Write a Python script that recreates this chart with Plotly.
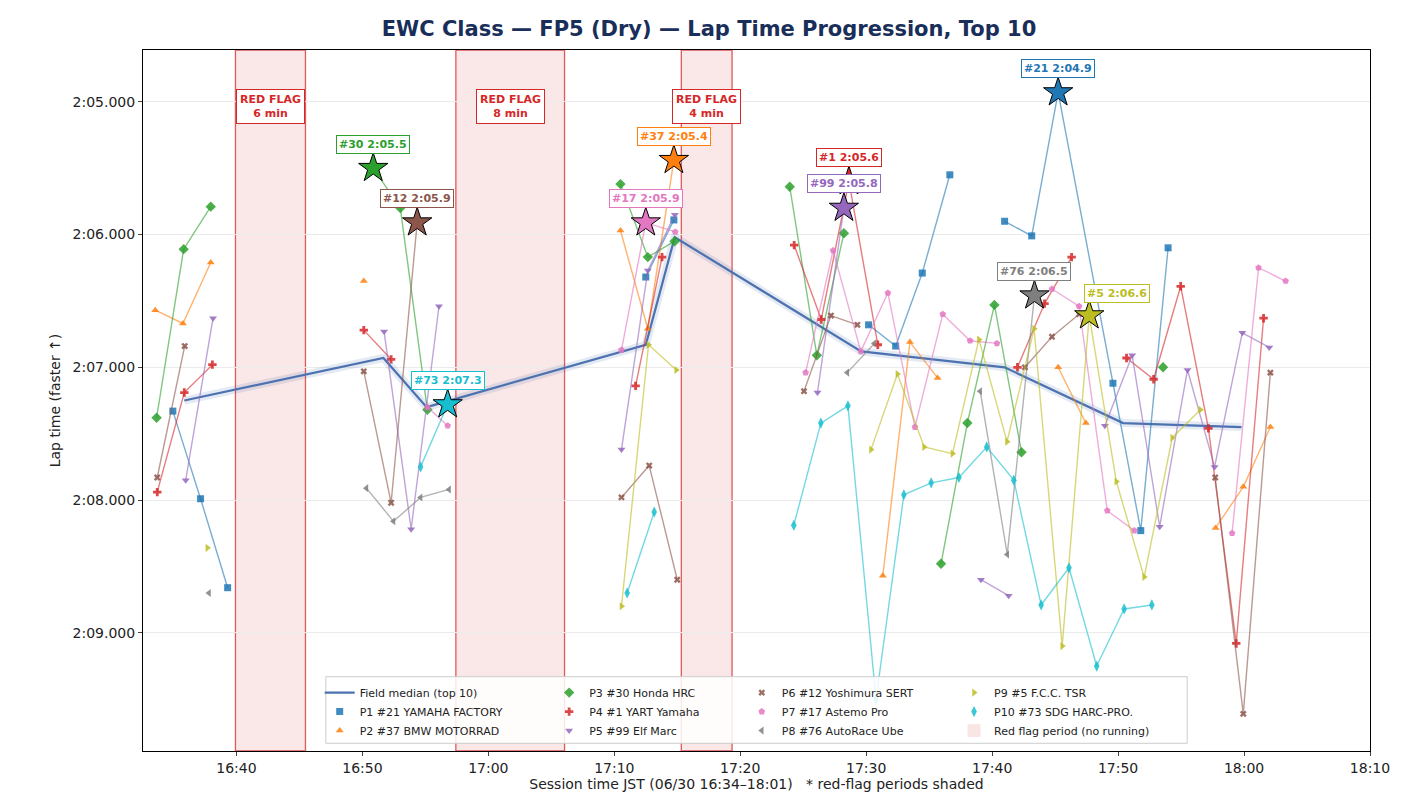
import plotly.graph_objects as go

# x = minutes after 16:00 JST, y = lap time seconds
p1_x = [34.95,37.15,39.3,None,72.5,74.73,None,90.19,92.34,94.45,96.64,None,100.99,103.14,105.24,109.59,111.8,113.97]
p1_y = [127.33,127.99,128.66,None,126.32,125.89,None,126.68,126.84,126.29,125.55,None,125.90,126.01,124.93,127.12,128.23,126.1]
p2_x = [33.55,35.75,37.96,None,50.11,None,70.49,72.66,74.73,None,91.32,93.47,95.67,None,105.24,107.44,None,117.74,119.94,122.09]
p2_y = [126.57,126.67,126.21,None,126.35,None,125.97,126.71,125.44,None,128.57,126.81,127.08,None,127.0,127.42,None,128.21,127.9,127.45]
p3_x = [33.66,35.81,37.96,None,50.86,53.01,55.16,None,70.49,72.66,74.79,None,83.93,86.08,88.23,None,95.94,98.03,100.18,102.33,None,113.57]
p3_y = [127.38,126.11,125.79,None,125.5,125.80,127.32,None,125.62,126.17,126.05,None,125.64,126.91,125.99,None,128.48,127.42,126.53,127.64,None,127.0]
p4_x = [33.71,35.86,38.09,None,50.11,52.28,None,71.69,73.79,None,84.28,86.43,88.63,90.92,None,102.01,104.16,106.31,None,110.67,112.82,114.97,117.17,119.38,121.55]
p4_y = [127.94,127.19,126.98,None,126.72,126.94,None,127.14,126.17,None,126.08,126.64,125.6,126.83,None,127.0,126.52,126.17,None,126.93,127.09,126.39,127.46,129.08,126.63]
p5_x = [35.97,38.14,None,51.72,53.87,56.08,None,70.57,72.66,74.81,None,86.13,88.23,None,99.11,101.31,None,108.95,111.12,113.3,115.51,117.66,119.86,122.0]
p5_y = [127.85,126.63,None,126.73,128.22,126.54,None,127.62,126.27,125.85,None,127.19,125.8,None,128.6,128.72,None,127.44,126.91,128.2,127.02,127.75,126.74,126.85]
p6_x = [33.71,35.89,None,50.11,52.28,54.35,None,70.57,72.77,75.0,None,85.06,87.2,89.3,None,102.6,104.75,106.9,None,117.71,119.94,122.09]
p6_y = [127.83,126.84,None,127.03,128.02,125.91,None,127.98,127.74,128.6,None,127.18,126.61,126.68,None,127.0,126.77,126.6,None,127.83,129.61,127.04]
p7_x = [55.16,56.77,None,70.57,72.5,74.84,None,85.19,87.37,89.57,91.72,93.87,96.08,98.25,100.38,None,104.75,106.9,109.14,111.29,None,119.05,121.15,123.3]
p7_y = [127.3,127.44,None,126.87,125.91,125.98,None,127.04,126.12,126.88,126.44,127.45,126.6,126.8,126.82,None,126.41,126.54,128.08,128.23,None,128.25,126.25,126.35]
p8_x = [37.82,None,50.32,52.47,54.62,56.88,None,88.5,90.65,None,99.05,101.2,103.36]
p8_y = [128.70,None,127.91,128.16,127.98,127.92,None,127.04,126.82,None,127.18,128.41,126.46]
p9_x = [37.69,None,70.57,72.72,74.92,None,90.38,92.48,94.6,96.85,98.95,101.18,103.33,105.56,107.71,109.86,112.07,114.3,116.53]
p9_y = [128.36,None,128.8,126.83,127.02,None,127.62,127.05,127.6,127.65,126.79,127.56,126.71,129.1,126.61,127.86,128.58,127.53,127.32]
p10_x = [54.62,56.77,None,71.02,73.17,None,84.25,86.4,88.55,90.78,92.99,95.16,97.36,99.57,101.72,103.89,106.1,108.3,110.48,112.68]
p10_y = [127.75,127.28,None,128.7,128.09,None,128.19,127.42,127.29,129.5,127.96,127.87,127.83,127.6,127.85,128.79,128.51,129.25,128.82,128.79]

median_x = [35.86,51.67,55.1,72.5,74.8,89.6,100.99,110.4,119.8]
median_y = [127.25,126.93,127.3,126.83,126.02,126.88,127.0,127.42,127.45]

names = ["P1 #21 YAMAHA FACTORY","P2 #37 BMW MOTORRAD","P3 #30 Honda HRC","P4 #1 YART Yamaha",
         "P5 #99 Elf Marc","P6 #12 Yoshimura SERT","P7 #17 Astemo Pro","P8 #76 AutoRace Ube",
         "P9 #5 F.C.C. TSR","P10 #73 SDG HARC-PRO."]
car_nums = ["#21","#37","#30","#1","#99","#12","#17","#76","#5","#73"]
best_x = [105.24,74.73,50.86,88.63,88.23,54.35,72.5,103.36,107.71,56.77]
best_y = [124.93,125.44,125.5,125.6,125.8,125.91,125.91,126.46,126.61,127.28]
best_text = ["2:04.9","2:05.4","2:05.5","2:05.6","2:05.8","2:05.9","2:05.9","2:06.5","2:06.6","2:07.3"]

flag_start = [39.92,57.42,75.32]
flag_end = [45.48,66.05,79.35]
flag_label = ["6 min","8 min","4 min"]

xtick_vals = [40,50,60,70,80,90,100,110,120,130]
xtick_text = ["16:40","16:50","17:00","17:10","17:20","17:30","17:40","17:50","18:00","18:10"]
ytick_vals = [125,126,127,128,129]
ytick_text = ["2:05.000","2:06.000","2:07.000","2:08.000","2:09.000"]

xs = [p1_x,p2_x,p3_x,p4_x,p5_x,p6_x,p7_x,p8_x,p9_x,p10_x]
ys = [p1_y,p2_y,p3_y,p4_y,p5_y,p6_y,p7_y,p8_y,p9_y,p10_y]
colors = ["#1f77b4","#ff7f0e","#2ca02c","#d62728","#9467bd","#8c564b","#e377c2","#7f7f7f","#bcbd22","#17becf"]
symbols = ["square","triangle-up","diamond","cross","triangle-down","x","pentagon","triangle-left","triangle-right","diamond-tall"]
msize = [7,7,8,7,7,6,7,7,7,8]
legends = ["legend","legend","legend2","legend2","legend2","legend3","legend3","legend3","legend4","legend4"]

def rgba(hexc, a):
    c = hexc.lstrip("#")
    return f"rgba({int(c[0:2],16)},{int(c[2:4],16)},{int(c[4:6],16)},{a})"

fig = go.Figure()
FONT = "DejaVu Sans"

for s, e in zip(flag_start, flag_end):
    fig.add_shape(type="rect", xref="x", yref="paper", x0=s, x1=e, y0=0, y1=1,
                  fillcolor="rgba(214,39,40,0.11)", line=dict(color="rgba(214,39,40,0.75)", width=1.3), layer="below")

fig.add_trace(go.Scatter(x=median_x, y=median_y, mode="lines", line=dict(color="rgba(76,114,176,0.15)", width=8),
                         showlegend=False, hoverinfo="skip"))
fig.add_trace(go.Scatter(x=median_x, y=median_y, mode="lines", line=dict(color="#4c72b0", width=2.2),
                         name="Field median (top 10)", legend="legend"))

for i in range(10):
    # lines (no legend)
    fig.add_trace(go.Scatter(x=xs[i], y=ys[i], mode="lines", showlegend=False,
                             line=dict(color=rgba(colors[i], 0.6), width=1.4), connectgaps=False))
    fig.add_trace(go.Scatter(x=xs[i], y=ys[i], mode="markers", name=names[i], legend=legends[i],
                             marker=dict(symbol=symbols[i], size=msize[i], color=rgba(colors[i], 0.85),
                                         line=dict(width=0))))

fig.add_trace(go.Scatter(x=[None], y=[None], mode="markers", name="Red flag period (no running)", legend="legend4",
                         marker=dict(symbol="square", size=13, color="rgba(214,39,40,0.12)")))

fig.add_trace(go.Scatter(x=best_x, y=best_y, mode="markers", showlegend=False,
                         marker=dict(symbol="star", size=22, color=colors, line=dict(color="black", width=1))))

offsets = {"#5": (28, -22)}
for i in range(10):
    ax, ay = offsets.get(car_nums[i], (0, -24))
    fig.add_annotation(x=best_x[i], y=best_y[i], text=f"<b>{car_nums[i]} {best_text[i]}</b>",
                       showarrow=True, arrowcolor="rgba(0,0,0,0)", ax=ax, ay=ay,
                       font=dict(color=colors[i], size=11, family=FONT), bgcolor="white",
                       bordercolor=colors[i], borderwidth=1, borderpad=2)

for s, e, lab in zip(flag_start, flag_end, flag_label):
    fig.add_annotation(x=(s + e) / 2, y=0.945, xref="x", yref="paper", showarrow=False,
                       text=f"<b>RED FLAG<br>{lab}</b>", font=dict(color="#d62728", size=11, family=FONT),
                       bgcolor="white", bordercolor="#d62728", borderwidth=1, borderpad=3)

fig.add_shape(type="rect", xref="paper", yref="paper", x0=0.149, x1=0.851, y0=0.011, y1=0.106,
              fillcolor="rgba(255,255,255,0.85)", line=dict(color="#cccccc", width=1), layer="above")

leg_common = dict(yanchor="top", y=0.104, xanchor="left", bgcolor="rgba(0,0,0,0)",
                  font=dict(size=11, family=FONT, color="#222"), tracegroupgap=0, itemwidth=30)
fig.update_layout(
    legend=dict(x=0.144, **leg_common),
    legend2=dict(x=0.331, **leg_common),
    legend3=dict(x=0.488, **leg_common),
    legend4=dict(x=0.661, **leg_common),
)

fig.update_layout(
    width=1402, height=812, margin=dict(l=135, r=40, t=42, b=69, autoexpand=False),
    paper_bgcolor="white", plot_bgcolor="white",
    font=dict(family=FONT, size=13, color="#222"),
    title=dict(text="<b>EWC Class — FP5 (Dry) — Lap Time Progression, Top 10</b>", x=0.5, xanchor="center",
               y=0.975, yanchor="middle", automargin=False, font=dict(size=21, color="#1a2e5a", family=FONT)),
    xaxis=dict(range=[32.58, 130], tickvals=xtick_vals, ticktext=xtick_text, showgrid=False, automargin=False,
               showline=True, linecolor="black", mirror=True, ticks="outside", ticklen=4,
               tickfont=dict(size=14),
               title=dict(text="Session time JST (06/30 16:34–18:01)   * red-flag periods shaded", standoff=4,
                          font=dict(size=14)),
               zeroline=False),
    yaxis=dict(range=[129.89, 124.61], tickvals=ytick_vals, ticktext=ytick_text, showgrid=True, automargin=False,
               gridcolor="#ebebeb", showline=True, linecolor="black", mirror=True, ticks="outside", ticklen=4,
               tickfont=dict(size=14),
               title=dict(text="Lap time (faster ↑)", standoff=8, font=dict(size=14)), zeroline=False),
)

fig.write_html("out.html")
